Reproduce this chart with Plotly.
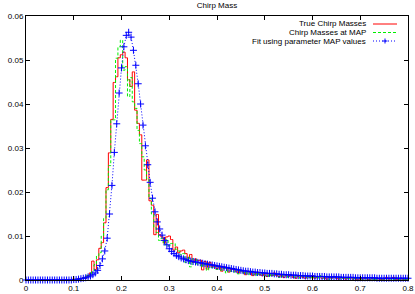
import numpy as np
import plotly.graph_objects as go

# grid of histogram bin centres / fit sample points (step 0.005 from 0 to 0.8)
x_grid = np.round(np.arange(0, 0.8001, 0.005), 4)

lead_zeros = [0.0] * 20  # x = 0.000 ... 0.095

true_chirp = lead_zeros + [
    0.0002, 0.0000, 0.0003, 0.0002, 0.0005, 0.0004, 0.0010, 0.0016, 0.0043, 0.0024,  # 0.100
    0.0046, 0.0072, 0.0085, 0.0130, 0.0210, 0.0289, 0.0365, 0.0449, 0.0462, 0.0505,  # 0.150
    0.0512, 0.0518, 0.0505, 0.0455, 0.0440, 0.0473, 0.0386, 0.0356, 0.0330, 0.0227,  # 0.200
    0.0227, 0.0273, 0.0180, 0.0170, 0.0103, 0.0149, 0.0103, 0.0098, 0.0084, 0.0098,  # 0.250
    0.0100, 0.0092, 0.0068, 0.0075, 0.0062, 0.0066, 0.0068, 0.0060, 0.0050, 0.0058,  # 0.300
    0.0040, 0.0048, 0.0044, 0.0045, 0.0023, 0.0042, 0.0025, 0.0040, 0.0030, 0.0034,  # 0.350
    0.0026, 0.0032, 0.0020, 0.0030, 0.0028, 0.0018, 0.0024, 0.0026, 0.0020, 0.0016,  # 0.400
    0.0022, 0.0018, 0.0012, 0.0020, 0.0016, 0.0010, 0.0014, 0.0018, 0.0012, 0.0010,  # 0.450
    0.0014, 0.0008, 0.0012, 0.0010, 0.0016, 0.0010, 0.0008, 0.0012, 0.0006, 0.0010,  # 0.500
    0.0008, 0.0012, 0.0006, 0.0004, 0.0008, 0.0010, 0.0006, 0.0004, 0.0008, 0.0006,  # 0.550
    0.0010, 0.0004, 0.0006, 0.0008, 0.0004, 0.0006, 0.0002, 0.0006, 0.0004, 0.0008,  # 0.600
    0.0004, 0.0002, 0.0006, 0.0004, 0.0002, 0.0004, 0.0006, 0.0002, 0.0004, 0.0000,  # 0.650
    0.0004, 0.0002, 0.0004, 0.0002, 0.0000, 0.0004, 0.0002, 0.0004, 0.0002, 0.0000,  # 0.700
    0.0002, 0.0006, 0.0002, 0.0004, 0.0006, 0.0000, 0.0002, 0.0004, 0.0000, 0.0002,  # 0.750
    0.0000,
]

map_chirp = lead_zeros + [
    0.0000, 0.0002, 0.0000, 0.0002, 0.0004, 0.0006, 0.0012, 0.0010, 0.0020, 0.0035,  # 0.100
    0.0055, 0.0062, 0.0100, 0.0140, 0.0205, 0.0260, 0.0364, 0.0364, 0.0504, 0.0530,  # 0.150
    0.0545, 0.0477, 0.0485, 0.0417, 0.0460, 0.0405, 0.0390, 0.0340, 0.0310, 0.0280,  # 0.200
    0.0250, 0.0230, 0.0185, 0.0150, 0.0120, 0.0108, 0.0090, 0.0095, 0.0080, 0.0092,  # 0.250
    0.0078, 0.0083, 0.0083, 0.0070, 0.0066, 0.0057, 0.0060, 0.0040, 0.0052, 0.0030,  # 0.300
    0.0048, 0.0046, 0.0036, 0.0040, 0.0030, 0.0038, 0.0022, 0.0034, 0.0028, 0.0032,  # 0.350
    0.0024, 0.0030, 0.0022, 0.0026, 0.0016, 0.0028, 0.0020, 0.0018, 0.0024, 0.0014,  # 0.400
    0.0020, 0.0016, 0.0018, 0.0012, 0.0020, 0.0014, 0.0010, 0.0016, 0.0012, 0.0014,  # 0.450
    0.0010, 0.0012, 0.0008, 0.0014, 0.0010, 0.0012, 0.0006, 0.0010, 0.0008, 0.0012,  # 0.500
    0.0006, 0.0010, 0.0008, 0.0006, 0.0010, 0.0004, 0.0008, 0.0006, 0.0010, 0.0004,  # 0.550
    0.0008, 0.0006, 0.0004, 0.0010, 0.0006, 0.0004, 0.0008, 0.0002, 0.0006, 0.0004,  # 0.600
    0.0006, 0.0004, 0.0002, 0.0006, 0.0004, 0.0002, 0.0004, 0.0002, 0.0006, 0.0002,  # 0.650
    0.0004, 0.0000, 0.0002, 0.0004, 0.0002, 0.0004, 0.0000, 0.0002, 0.0004, 0.0002,  # 0.700
    0.0000, 0.0002, 0.0004, 0.0002, 0.0000, 0.0006, 0.0002, 0.0000, 0.0002, 0.0000,  # 0.750
    0.0002,
]

fit_map = lead_zeros + [
    0.0001, 0.0001, 0.0002, 0.0003, 0.0004, 0.0005, 0.0007, 0.0009, 0.0012, 0.0016,  # 0.100
    0.0022, 0.0033, 0.0048, 0.0066, 0.0095, 0.0150, 0.0215, 0.0290, 0.0355, 0.0425,  # 0.150
    0.0482, 0.0530, 0.0556, 0.0563, 0.0552, 0.0522, 0.0488, 0.0446, 0.0400, 0.0352,  # 0.200
    0.0305, 0.0262, 0.0222, 0.0186, 0.0155, 0.0132, 0.0116, 0.0102, 0.0090, 0.0080,  # 0.250
    0.0071, 0.0065, 0.0060, 0.0056, 0.0053, 0.0050, 0.0048, 0.0046, 0.0044, 0.0043,  # 0.300
    0.0042, 0.0041, 0.0040, 0.0039, 0.0038, 0.0037, 0.0036, 0.0035, 0.0034, 0.0033,  # 0.350
    0.0032, 0.0031, 0.0030, 0.0029, 0.0028, 0.0027, 0.0026, 0.0025, 0.0024, 0.0023,  # 0.400
    0.0022, 0.0021, 0.0020, 0.0020, 0.0019, 0.0018, 0.0018, 0.0017, 0.0017, 0.0016,  # 0.450
    0.0016, 0.0015, 0.0015, 0.0015, 0.0014, 0.0014, 0.0013, 0.0013, 0.0012, 0.0012,  # 0.500
    0.0012, 0.0011, 0.0011, 0.0011, 0.0010, 0.0010, 0.0010, 0.0009, 0.0009, 0.0009,  # 0.550
    0.0009, 0.0008, 0.0008, 0.0008, 0.0008, 0.0008, 0.0007, 0.0007, 0.0007, 0.0007,  # 0.600
    0.0007, 0.0007, 0.0006, 0.0006, 0.0006, 0.0006, 0.0006, 0.0006, 0.0005, 0.0005,  # 0.650
    0.0005, 0.0005, 0.0005, 0.0005, 0.0005, 0.0005, 0.0005, 0.0004, 0.0004, 0.0004,  # 0.700
    0.0004, 0.0004, 0.0004, 0.0004, 0.0004, 0.0004, 0.0004, 0.0004, 0.0004, 0.0004,  # 0.750
    0.0004,
]

series_names = ["True Chirp Masses", "Chirp Masses at MAP", "Fit using parameter MAP values"]
x_ticks = [0, 0.1, 0.2, 0.3, 0.4, 0.5, 0.6, 0.7, 0.8]
y_ticks = [0, 0.01, 0.02, 0.03, 0.04, 0.05, 0.06]

FONT = "Liberation Sans, Arial, Helvetica, sans-serif"
RED, GREEN, BLUE = "#ff0000", "#00f000", "#0000ff"

fig = go.Figure()
fig.add_trace(go.Scatter(x=x_grid, y=true_chirp, mode="lines", line_shape="hvh",
                         line=dict(color=RED, width=1), name=series_names[0]))
fig.add_trace(go.Scatter(x=x_grid, y=map_chirp, mode="lines", line_shape="hvh",
                         line=dict(color=GREEN, width=1, dash="3px,2px"), name=series_names[1]))
fig.add_trace(go.Scatter(x=x_grid, y=fit_map, mode="lines+markers",
                         line=dict(color=BLUE, width=1, dash="1px,2px"),
                         marker=dict(symbol="cross-thin", size=5, line=dict(color=BLUE, width=1)),
                         name=series_names[2], cliponaxis=False))

# gnuplot-style key (text right-aligned, sample to the right)
L, R, T, B = 26, 7, 16, 14
W, H = 415, 294
pw, ph = W - L - R, H - T - B

def px_x(p):
    return (p - L) / pw

def px_y(p):
    return (H - B - p) / ph

key_rows = [24, 32.5, 41]
styles = [dict(color=RED, width=1), dict(color=GREEN, width=1, dash="3px,2px"),
          dict(color=BLUE, width=1, dash="1px,2px")]
shapes = []
annotations = []
for name, yr, st in zip(series_names, key_rows, styles):
    annotations.append(dict(x=px_x(368), y=px_y(yr), xref="paper", yref="paper",
                            text=name, showarrow=False, xanchor="right", yanchor="middle",
                            font=dict(family=FONT, size=8, color="black")))
    shapes.append(dict(type="line", xref="paper", yref="paper",
                       x0=px_x(373), x1=px_x(397), y0=px_y(yr), y1=px_y(yr), line=st))
# blue + marker in key
cx, cy = 385, key_rows[2]
shapes.append(dict(type="line", xref="paper", yref="paper", x0=px_x(cx - 2.5), x1=px_x(cx + 2.5),
                   y0=px_y(cy), y1=px_y(cy), line=dict(color=BLUE, width=1)))
shapes.append(dict(type="line", xref="paper", yref="paper", x0=px_x(cx), x1=px_x(cx),
                   y0=px_y(cy - 2.5), y1=px_y(cy + 2.5), line=dict(color=BLUE, width=1)))

axis_common = dict(showline=True, linecolor="black", linewidth=1, mirror="ticks",
                   ticks="inside", ticklen=4, tickwidth=1, tickcolor="black",
                   showgrid=False, zeroline=False, automargin=False,
                   ticklabeloverflow="allow",
                   tickfont=dict(family=FONT, size=8, color="black"))

fig.update_layout(
    width=W, height=H,
    margin=dict(l=L, r=R, t=T, b=B, autoexpand=False),
    paper_bgcolor="white", plot_bgcolor="white",
    showlegend=False,
    title=dict(text="Chirp Mass", x=px_x(217), xref="paper", xanchor="center",
               y=1 - 5 / H, yref="container", yanchor="middle",
               font=dict(family=FONT, size=8, color="black")),
    xaxis=dict(range=[0, 0.8], tickvals=x_ticks, ticktext=[str(v) for v in x_ticks], **axis_common),
    yaxis=dict(range=[0, 0.06], tickvals=y_ticks, ticktext=[str(v) for v in y_ticks], **axis_common),
    shapes=shapes, annotations=annotations,
)

fig.write_html("out.html", config={"displayModeBar": False, "staticPlot": True},
               post_script="document.body.style.margin='0';document.body.style.overflow='hidden';")
